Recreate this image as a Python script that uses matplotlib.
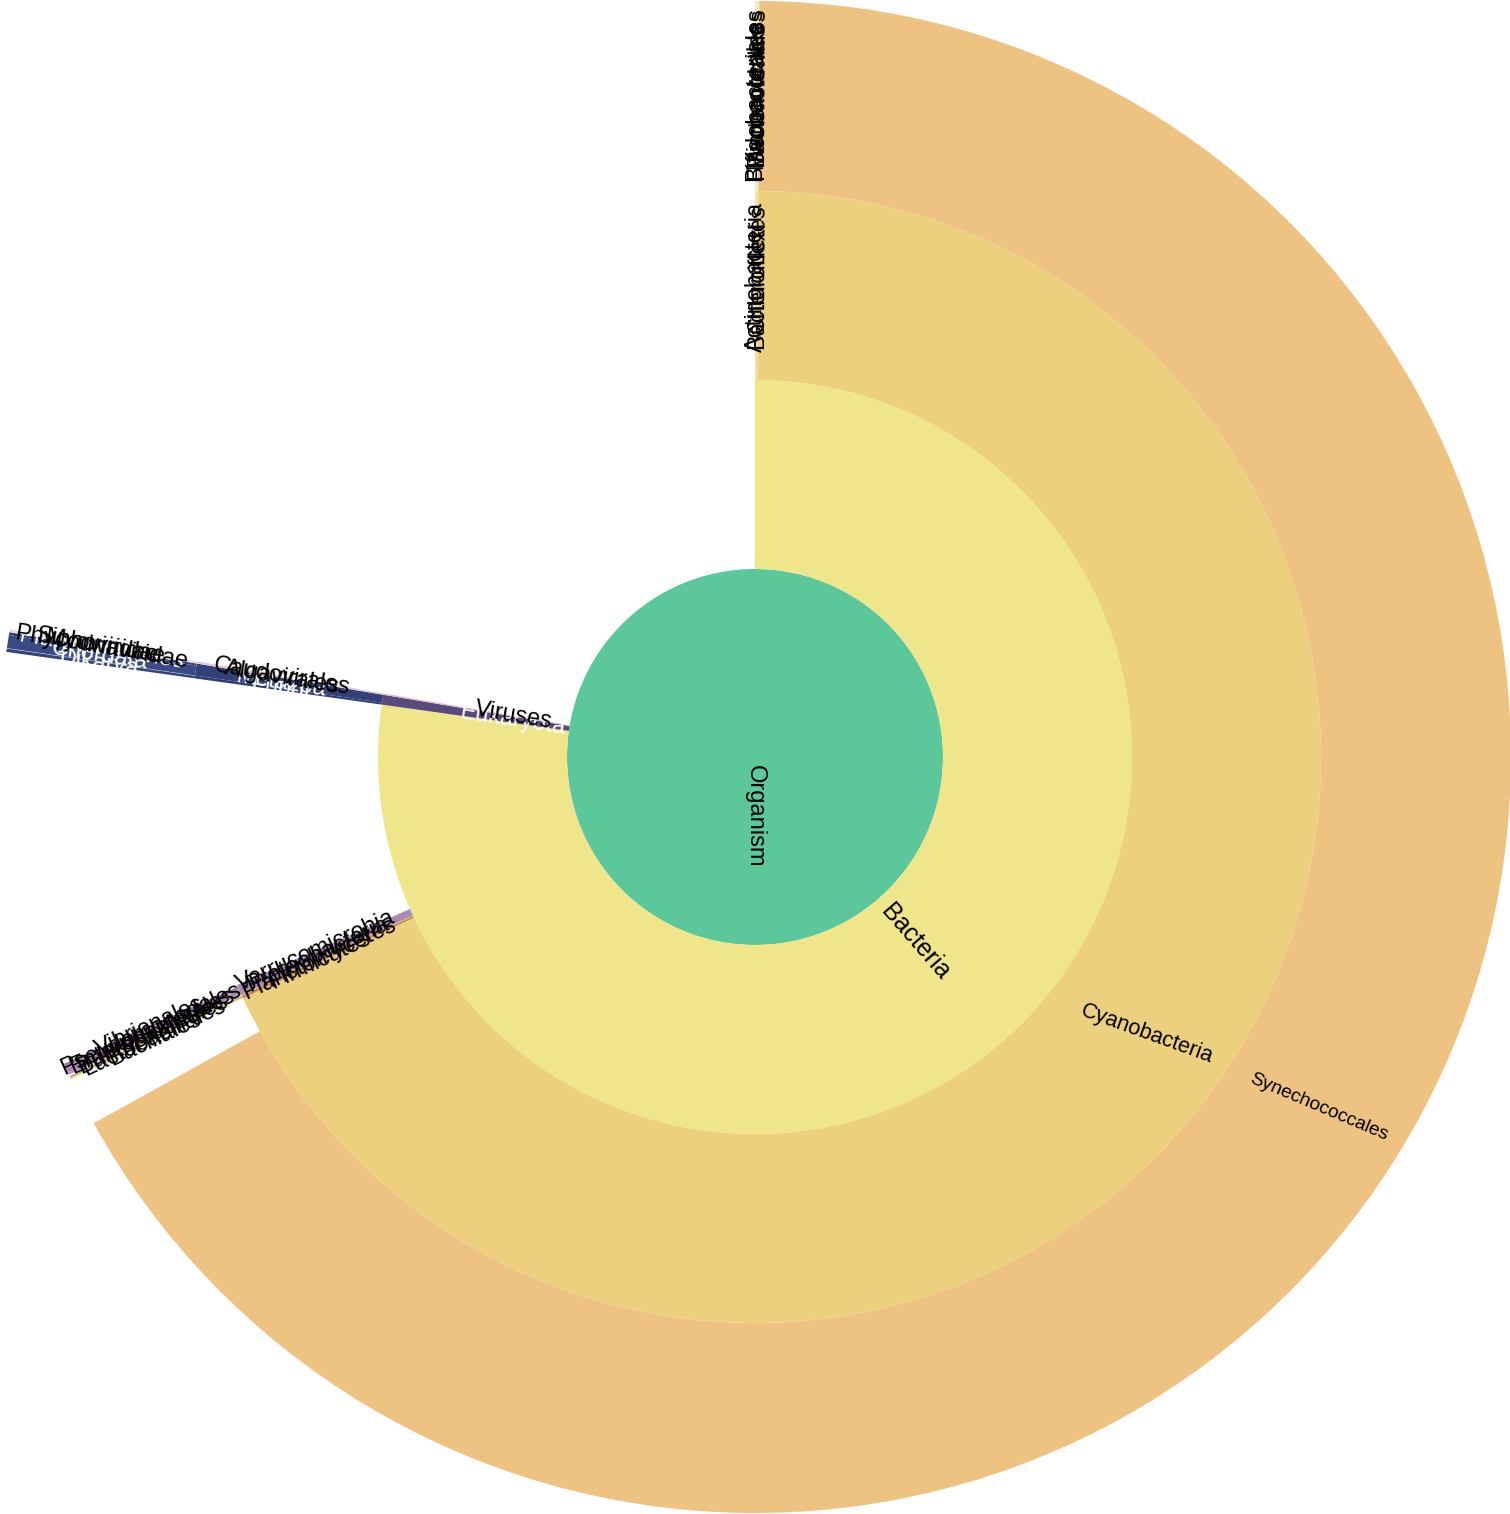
import matplotlib
matplotlib.use("Agg")
from matplotlib import pyplot as plt
from matplotlib.patches import Wedge, Circle
import numpy as np

# whole circle = TOTAL units (Organism)
TOTAL = 10000

LABELS = [
    "Bacteria", "Eukaryota", "Viruses",
    "Actinobacteria", "Bacteroidetes", "Chloroflexi", "Cyanobacteria",
    "Firmicutes", "Planctomycetes", "Proteobacteria", "Verrucomicrobia",
    "Fungi", "Metazoa",
    "Algavirales", "Caudovirales",
    "Bifidobacteriales", "Micrococcales",
    "Bacteroidales", "Flavobacteriales",
    "Synechococcales",
    "Bacillales", "Lactobacillales",
    "Burkholderiales", "Enterobacterales", "Pseudomonadales", "Vibrionales",
    "Dikarya",
    "Chordata", "Platyhelminthes",
    "Phycodnaviridae",
    "Myoviridae", "Siphoviridae",
]
PARENTS = [
    "Organism", "Organism", "Organism",
    "Bacteria", "Bacteria", "Bacteria", "Bacteria",
    "Bacteria", "Bacteria", "Bacteria", "Bacteria",
    "Eukaryota", "Eukaryota",
    "Viruses", "Viruses",
    "Actinobacteria", "Actinobacteria",
    "Bacteroidetes", "Bacteroidetes",
    "Cyanobacteria",
    "Firmicutes", "Firmicutes",
    "Proteobacteria", "Proteobacteria", "Proteobacteria", "Proteobacteria",
    "Fungi",
    "Metazoa", "Metazoa",
    "Algavirales",
    "Caudovirales", "Caudovirales",
]
VALUES = [
    7722, 42, 6,
    5, 3, 1, 6790,
    8, 3, 28, 2,
    8, 34,
    1, 5,
    2, 2,
    1, 2,
    6686,
    4, 3,
    6, 8, 5, 6,
    7,
    28, 6,
    1,
    2, 2,
]

COLORS = {
    "Organism": "#5bc79b",
    "Bacteria": "#efe68b",
    "Eukaryota": "#574a7d",
    "Viruses": "#eab9cb",
    "Actinobacteria": "#f3e2a2", "Bacteroidetes": "#efd9a0", "Chloroflexi": "#f5ecc0",
    "Cyanobacteria": "#ecd07e",
    "Firmicutes": "#c98a48", "Planctomycetes": "#d6a56f", "Proteobacteria": "#a98ab6",
    "Verrucomicrobia": "#9a7cae",
    "Fungi": "#2f3d70", "Metazoa": "#33417a",
    "Algavirales": "#f0cbd8", "Caudovirales": "#ecc0cf",
    "Bifidobacteriales": "#f1e3b0", "Micrococcales": "#f4e9bf",
    "Bacteroidales": "#eedcae", "Flavobacteriales": "#f2e4bc",
    "Synechococcales": "#eec281",
    "Bacillales": "#d6e6b4", "Lactobacillales": "#c58c52",
    "Burkholderiales": "#b795c2", "Enterobacterales": "#a585b3",
    "Pseudomonadales": "#c3a4cb", "Vibrionales": "#9b7bad",
    "Dikarya": "#36447c", "Chordata": "#3a4a86", "Platyhelminthes": "#34427a",
    "Phycodnaviridae": "#f4d6e0", "Myoviridae": "#f0ccd9", "Siphoviridae": "#ecc3d2",
}
DARK = {"Eukaryota", "Fungi", "Metazoa", "Dikarya", "Chordata", "Platyhelminthes"}

RADII = [0, 188, 377, 566, 756]
TEXT_R = [0, 245, 480, 663]
# (radius, math angle) for a few labels that plotly placed off-centre
TEXT_POS_OVERRIDE = {"Organism": (59, -90), "Cyanobacteria": (480, -35.2),
                     "Synechococcales": (664, -31.8)}
ROT_OVERRIDE = {"Organism": -90, "Cyanobacteria": -20, "Synechococcales": -23}
FONT_SIZE = {"Synechococcales": 13.8, "Cyanobacteria": 15.6, "Bacteria": 18}
BASE_FONT = 17

children = {}
for lab, par, val in zip(LABELS, PARENTS, VALUES):
    children.setdefault(par, []).append((lab, val))

# angles measured clockwise from 12 o'clock
spans = {"Organism": (0.0, 360.0, 0)}


def layout(node):
    start, end, depth = spans[node]
    a = start
    for lab, val in children.get(node, []):
        w = val / TOTAL * 360.0
        spans[lab] = (a, a + w, depth + 1)
        a += w
        layout(lab)


layout("Organism")

plt.rcParams['font.family'] = ['Liberation Sans', 'DejaVu Sans']
fig = plt.figure(figsize=(15.10, 15.14), dpi=100)
ax = fig.add_axes([0, 0, 1, 1])
ax.set_xlim(-755, 755)
ax.set_ylim(-757, 757)
ax.set_aspect("equal")
ax.axis("off")

ax.add_patch(Circle((0, 0), RADII[1], facecolor=COLORS["Organism"], edgecolor="none"))

for name, (a, b, d) in spans.items():
    if d == 0:
        continue
    ax.add_patch(Wedge((0, 0), RADII[d + 1], 90 - b, 90 - a,
                       width=RADII[d + 1] - RADII[d],
                       facecolor=COLORS[name], edgecolor="none"))

for name, (a, b, d) in spans.items():
    m = (a + b) / 2
    phi = 90 - m
    r = TEXT_R[d]
    rot = phi
    while rot > 90:
        rot -= 180
    while rot <= -90:
        rot += 180
    if name in TEXT_POS_OVERRIDE:
        r, phi = TEXT_POS_OVERRIDE[name]
    x = r * np.cos(np.radians(phi))
    y = r * np.sin(np.radians(phi))
    rot = ROT_OVERRIDE.get(name, rot)
    ax.text(x, y, name, rotation=rot, rotation_mode="anchor",
            ha="center", va="center", fontsize=FONT_SIZE.get(name, BASE_FONT),
            color="white" if name in DARK else "black")

fig.savefig("out.png", dpi=100)
